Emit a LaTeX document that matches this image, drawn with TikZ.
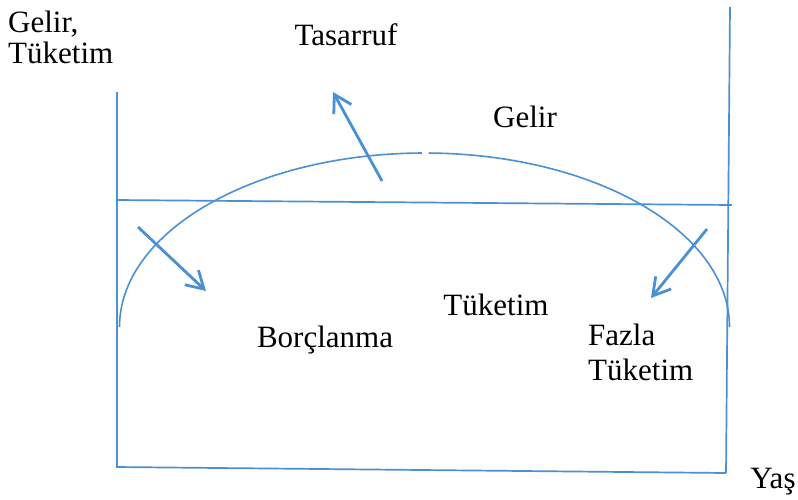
\documentclass[tikz,border=0pt]{standalone}
\usepackage{fontspec}
\setmainfont{Liberation Serif}
\usetikzlibrary{arrows.meta}
\definecolor{lblue}{RGB}{74,144,212}
\tikzset{
  axis/.style={draw=lblue, line width=1.7pt},
  curve/.style={draw=lblue, line width=1.6pt},
  flow/.style={draw=lblue, line width=2.8pt, -{Straight Barb[length=17pt,width=20pt,line width=2.8pt]}},
  lbl/.style={inner sep=0pt, font=\fontsize{31}{31}\selectfont, text=black}
}
\begin{document}
\begin{tikzpicture}[x=1pt,y=-1pt]
\useasboundingbox (0,0) rectangle (798,499);
% frame coordinates
\coordinate (lt) at (117,92);
\coordinate (lb) at (117,467);
\coordinate (rt) at (730,7);
\coordinate (rb) at (726,473);
\coordinate (hl) at (117,200);
\coordinate (hr) at (732,205);
\draw[axis] (lt) -- (lb) -- (rb);
\draw[axis] (rt) -- (rb);
\draw[axis] (hl) -- (hr);
% arc (ellipse centre 424.5,327; rx 305, ry 174); y axis points down
\coordinate (c) at (424.5,327);
\draw[curve] (c) ++(180:305 and 174) arc[start angle=180, end angle=269.5, x radius=305, y radius=174];
\draw[curve] (c) ++(270.8:305 and 174) arc[start angle=270.8, end angle=360, x radius=305, y radius=174];
% arrows
\coordinate (a1s) at (382,181);
\coordinate (a1e) at (333,92);
\coordinate (a2s) at (138,227);
\coordinate (a2e) at (206,291);
\coordinate (a3s) at (707,229);
\coordinate (a3e) at (651,298);
\draw[flow] (a1s) -- (a1e);
\draw[flow] (a2s) -- (a2e);
\draw[flow] (a3s) -- (a3e);
% labels
\node[lbl, anchor=base west] (yl1) at (8,32) {Gelir,};
\node[lbl, anchor=base west] (yl2) at (8,63) {Tüketim};
\node[lbl, anchor=base] (tas) at (346,45) {Tasarruf};
\node[lbl, anchor=base] (gel) at (525,127) {Gelir};
\node[lbl, anchor=base] (tuk) at (496,315) {Tüketim};
\node[lbl, anchor=base] (bor) at (325,347) {Borçlanma};
\node[lbl, anchor=base west] (fz1) at (588,345) {Fazla};
\node[lbl, anchor=base west] (fz2) at (588,380) {Tüketim};
\node[lbl, anchor=base] (yas) at (773,488) {Yaş};
\end{tikzpicture}
\end{document}
